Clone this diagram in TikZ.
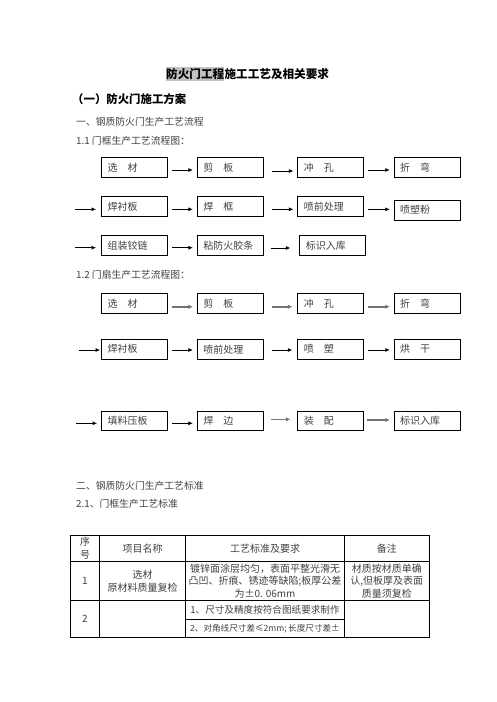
\documentclass[tikz,border=0pt]{standalone}
\usepackage{fontspec}
\newfontfamily\cjk{Noto Sans CJK SC}
\usetikzlibrary{arrows.meta}
\definecolor{hiGray}{gray}{0.76}
\tikzset{
    procBox/.style={draw, line width=0.8pt, minimum height=20pt, text width=54pt,
        inner xsep=6pt, inner ysep=0pt, align=left, text=black!75,
        font=\cjk\fontsize{10}{12}\selectfont},
    procArr/.style={line width=0.8pt, -{Latex[length=4.5pt,width=4pt]},
        shorten >=4pt, shorten <=4pt},
    procArrG/.style={procArr, draw=black!55, line width=1.6pt,
        -{Latex[length=4.5pt,width=4.5pt]}}
}
\tikzset{
    headTxt/.style={anchor=west, inner sep=0pt, font=\cjk\bfseries\fontsize{11.6}{13}\selectfont},
    bodyTxt/.style={anchor=west, inner sep=0pt, text=black!75, font=\cjk\fontsize{9.8}{12}\selectfont},
    cellTxt/.style={inner sep=0pt, align=center, text=black!75, font=\cjk\fontsize{10}{12.8}\selectfont},
    tabLine/.style={line width=0.9pt}
}
\begin{document}
\begin{tikzpicture}[x=1pt, y=-1pt]
    \useasboundingbox (0,0) rectangle (496,702);
    % titles
    \node[headTxt, fill=hiGray, minimum height=14pt] (ttlA) at (166,73.7) {防火门工程};
    \node[headTxt] (ttlB) at (ttlA.east) {施工工艺及相关要求};
    \node[headTxt, font=\cjk\bfseries\fontsize{11.4}{13}\selectfont] (sec1) at (72,99.3) {（一）防火门施工方案};
    \node[bodyTxt] (part1) at (76,121.7) {一、钢质防火门生产工艺流程};
    \node[bodyTxt] (flow11) at (76,140.7) {1.1 门框生产工艺流程图：};
    % 1.1 door frame
    \node[procBox] (fa1) at (134.5,167.3) {选\quad 材};
    \node[procBox] (fa2) at (230.3,167.3) {剪\quad 板};
    \node[procBox] (fa3) at (330.8,167.3) {冲\quad 孔};
    \node[procBox] (fa4) at (427.2,167.3) {折\quad 弯};
    \node[procBox] (fb1) at (134.5,206.7) {焊衬板};
    \node[procBox] (fb2) at (230.3,206.7) {焊\quad 框};
    \node[procBox] (fb3) at (330.8,206.7) {喷前处理};
    \node[procBox] (fb4) at (427.2,210) {喷塑粉};
    \node[procBox] (fc1) at (134.5,245.7) {组装铰链};
    \node[procBox] (fc2) at (230.3,245.7) {粘防火胶条};
    \node[procBox] (fc3) at (332.8,245.7) {标识入库};
    \coordinate (fbIn) at (75,209.3);
    \coordinate (fcIn) at (75,247.7);
    \coordinate (fb3Out) at ([yshift=-2.6pt]fb3.east);
    \draw[procArr] ([yshift=-2.7pt]fa1.east) -- ([yshift=-2.7pt]fa2.west);
    \draw[procArr, shorten <=8pt] ([yshift=-3.7pt]fa2.east) -- ([yshift=-3.7pt]fa3.west);
    \draw[procArr] ([yshift=-2.7pt]fa3.east) -- ([yshift=-2.7pt]fa4.west);
    \draw[procArr, shorten <=0pt, shorten >=5pt] (fbIn) -- (fbIn -| fb1.west);
    \draw[procArr] ([yshift=-2.6pt]fb1.east) -- ([yshift=-2.6pt]fb2.west);
    \draw[procArr, shorten <=8pt] ([yshift=-2.6pt]fb2.east) -- ([yshift=-2.6pt]fb3.west);
    \draw[procArr] (fb3Out) -- (fb3Out -| fb4.west);
    \draw[procArr, shorten <=0pt, shorten >=5pt] (fcIn) -- (fcIn -| fc1.west);
    \draw[procArr] ([yshift=-2pt]fc1.east) -- ([yshift=-2pt]fc2.west);
    \draw[procArr, shorten <=7pt, shorten >=9pt] ([yshift=-2.3pt]fc2.east) -- ([yshift=-2.3pt]fc3.west);
    % 1.2 door leaf
    \node[bodyTxt] (flow12) at (76,275) {1.2 门扇生产工艺流程图：};
    \node[procBox] (da1) at (134.5,303.3) {选\quad 材};
    \node[procBox] (da2) at (230.3,303.3) {剪\quad 板};
    \node[procBox] (da3) at (330.8,303.3) {冲\quad 孔};
    \node[procBox] (da4) at (427.2,303.3) {折\quad 弯};
    \node[procBox] (db1) at (134.5,349.2) {焊衬板};
    \node[procBox] (db2) at (230.3,349.2) {喷前处理};
    \node[procBox] (db3) at (330.8,349.2) {喷\quad 塑};
    \node[procBox] (db4) at (427.2,349.2) {烘\quad 干};
    \node[procBox, minimum height=19pt] (dc1) at (134.5,421.2) {填料压板};
    \node[procBox, minimum height=19pt] (dc2) at (230.3,421.2) {焊\quad 边};
    \node[procBox, minimum height=19pt] (dc3) at (330.8,421.2) {装\quad 配};
    \node[procBox, minimum height=19pt] (dc4) at (427.2,421.2) {标识入库};
    \coordinate (dbIn) at (79.3,350);
    \coordinate (dcIn) at (76,423.3);
    \draw[procArrG] ([yshift=-3.4pt]da1.east) -- ([yshift=-3.4pt]da2.west);
    \draw[procArrG, shorten <=8pt, shorten >=5pt] ([yshift=-3.4pt]da2.east) -- ([yshift=-3.4pt]da3.west);
    \draw[procArrG] ([yshift=-3.4pt]da3.east) -- ([yshift=-3.4pt]da4.west);
    \draw[procArr, shorten <=0pt, shorten >=1pt] (dbIn) -- (dbIn -| db1.west);
    \draw[procArr] ([yshift=-0.8pt]db1.east) -- ([yshift=-0.8pt]db2.west);
    \draw[procArr, shorten <=8pt, shorten >=5pt] ([yshift=-0.8pt]db2.east) -- ([yshift=-0.8pt]db3.west);
    \draw[procArr] ([yshift=-0.8pt]db3.east) -- ([yshift=-0.8pt]db4.west);
    \draw[procArr, shorten <=0pt, shorten >=4pt] (dcIn) -- (dcIn -| dc1.west);
    \draw[procArr] ([yshift=-2.1pt]dc1.east) -- ([yshift=-2.1pt]dc2.west);
    \draw[procArrG, line width=1.1pt, shorten <=7pt, shorten >=7pt] ([yshift=1.9pt]dc2.east) -- ([yshift=1.9pt]dc3.west);
    \draw[procArrG, line width=1.3pt, shorten <=3pt] ([yshift=1.2pt]dc3.east) -- ([yshift=1.2pt]dc4.west);
    % part two and table
    \node[bodyTxt] (part2) at (76,485.7) {二、钢质防火门生产工艺标准};
    \node[bodyTxt] (std21) at (76,504) {2.1、门框生产工艺标准};
    \draw[tabLine] (70.7,535.7) rectangle (429.3,637.3);
    \draw[tabLine] (99.3,535.7) -- (99.3,637.3);
    \draw[tabLine] (185.7,535.7) -- (185.7,637.3);
    \draw[tabLine] (344.3,535.7) -- (344.3,637.3);
    \draw[tabLine] (70.7,561) -- (429.3,561);
    \draw[tabLine] (70.7,600.7) -- (429.3,600.7);
    \draw[tabLine] (185.7,619) -- (344.3,619);
    \node[cellTxt, font=\cjk\fontsize{10}{13.3}\selectfont] (hNo) at (85,548.3) {序\\号};
    \node[cellTxt] (hName) at (142.5,548.3) {项目名称};
    \node[cellTxt] (hStd) at (265,548.3) {工艺标准及要求};
    \node[cellTxt] (hNote) at (386.8,548.3) {备注};
    \node[cellTxt] (r1No) at (85,581) {1};
    \node[cellTxt] (r1Name) at (142.5,581) {选材\\原材料质量复检};
    \node[cellTxt] (r1Std) at (265,581) {镀锌面涂层均匀，表面平整光滑无\\凸凹、折痕、锈迹等缺陷;板厚公差\\为±0. 06mm};
    \node[cellTxt] (r1Note) at (386.8,581) {材质按材质单确\\认,但板厚及表面\\质量须复检};
    \node[cellTxt] (r2No) at (85,619) {2};
    \node[cellTxt, font=\cjk\fontsize{9.6}{12}\selectfont] (r2StdA) at (265,609.9) {1、尺寸及精度按符合图纸要求制作};
    \node[cellTxt, font=\cjk\fontsize{8.6}{12}\selectfont] (r2StdB) at (265,628.2) {2、对角线尺寸差≤2mm;\,长度尺寸差±};
\end{tikzpicture}
\end{document}
